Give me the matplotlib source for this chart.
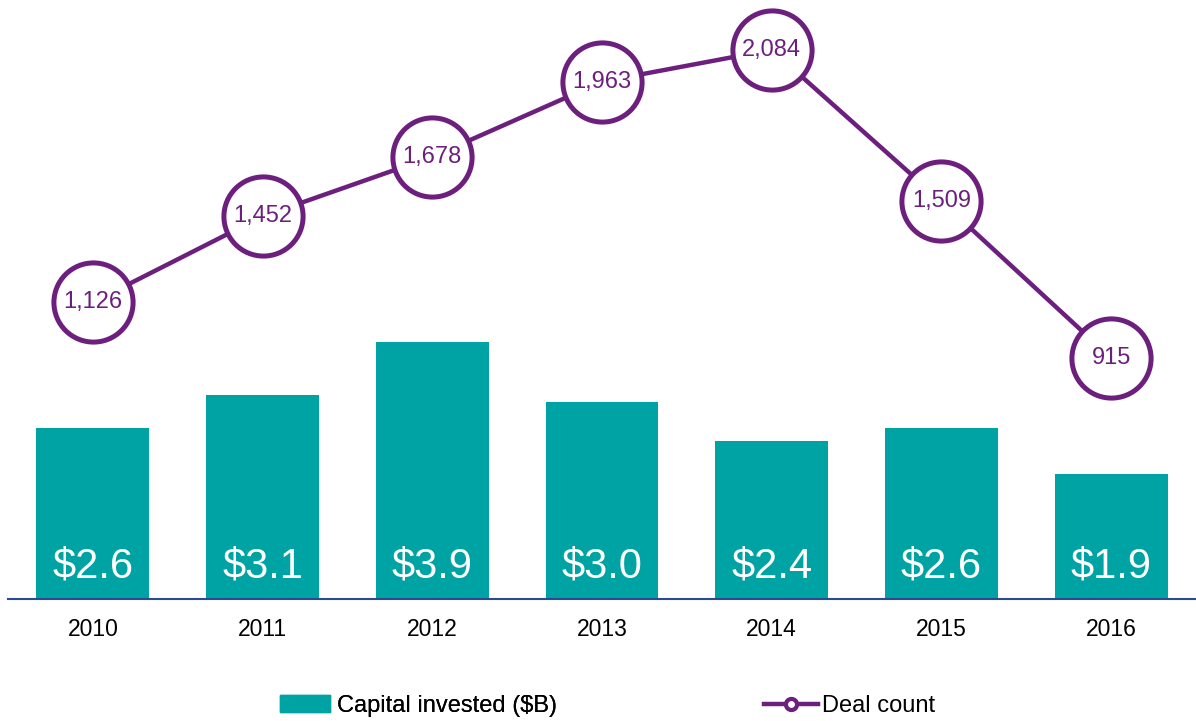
import matplotlib.pyplot as plt
from matplotlib.patches import Patch
from matplotlib.lines import Line2D

plt.rcParams['font.family'] = ['Liberation Sans', 'DejaVu Sans']

years = ["2010", "2011", "2012", "2013", "2014", "2015", "2016"]
capital = [2.6, 3.1, 3.9, 3.0, 2.4, 2.6, 1.9]
deals = [1126, 1452, 1678, 1963, 2084, 1509, 915]

teal = "#00a3a3"
purple = "#6c1f7d"
axis_blue = "#2b4a94"

fig = plt.figure(figsize=(11.96, 7.21), dpi=100)
ax = fig.add_axes([8 / 1196, 122 / 721, 1188 / 1196, 599 / 721])
x = list(range(len(years)))

ax.bar(x, capital, width=0.665, color=teal)
for xi, v in zip(x, capital):
    ax.text(xi, 0.5, f"${v:.1f}", color="white", fontsize=30,
            ha="center", va="center")

ax.set_xlim(-0.5, 6.5)
ax.set_ylim(0, 9.1)
ax.set_xticks(x)
ax.set_xticklabels(years, fontsize=16.5)
ax.tick_params(axis="x", length=0, pad=14)
ax.set_yticks([])
for side in ["top", "right", "left"]:
    ax.spines[side].set_visible(False)
ax.spines["bottom"].set_color(axis_blue)
ax.spines["bottom"].set_linewidth(1.5)

ax2 = ax.twinx()
ax2.plot(x, deals, color=purple, linewidth=3.2, marker="o", markersize=57,
         markerfacecolor="white", markeredgecolor=purple, markeredgewidth=3.6)
for xi, v in zip(x, deals):
    ax2.text(xi, v, f"{v:,}", color=purple, fontsize=17,
             ha="center", va="center")
ax2.set_ylim(0, 2273)
ax2.set_yticks([])
for side in ["top", "right", "left", "bottom"]:
    ax2.spines[side].set_visible(False)

# legend entries placed separately along the bottom
leg1 = fig.legend(handles=[Patch(color=teal)], labels=["Capital invested ($B)"],
                  loc="center left", bbox_to_anchor=(280 / 1196, 1 - 706 / 721),
                  frameon=False, fontsize=17, borderpad=0, borderaxespad=0,
                  handlelength=2.1, handleheight=0.75, handletextpad=0.3)
leg2 = fig.legend(handles=[Line2D([], [], color=purple, linewidth=3.2, marker="o",
                                  markersize=8, markerfacecolor="white",
                                  markeredgecolor=purple, markeredgewidth=3)],
                  labels=["Deal count"],
                  loc="center left", bbox_to_anchor=(764 / 1196, 1 - 706 / 721),
                  frameon=False, fontsize=17, borderpad=0, borderaxespad=0,
                  handlelength=2.3, handletextpad=0.15)
fig.add_artist(leg1)

fig.savefig("out.png", dpi=100)
